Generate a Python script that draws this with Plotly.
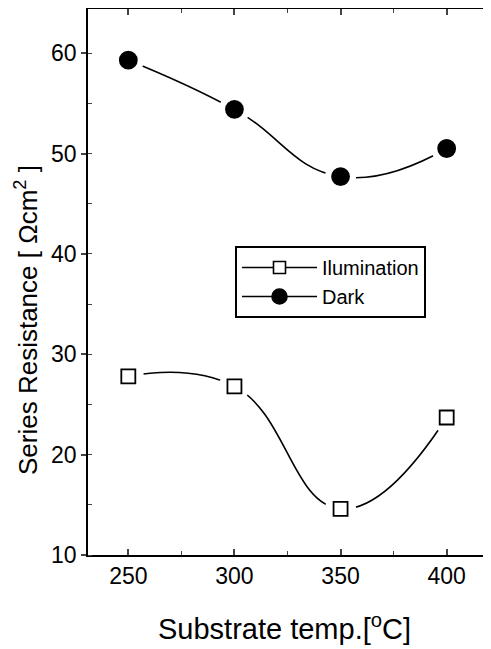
import plotly.graph_objects as go

temps = [250, 300, 350, 400]
illum = [27.8, 26.8, 14.6, 23.7]
dark = [59.3, 54.4, 47.7, 50.5]
x_ticks = [250, 300, 350, 400]
y_ticks = [10, 20, 30, 40, 50, 60]

# the page body adds an 8px offset; the figure is laid out to compensate
OFF = 8
W, H = 491 - OFF, 649 - OFF
L, R, T, B = 88 - OFF, 4, 1, 649 - 555
pw, ph = W - L - R, H - T - B

fig = go.Figure()

def add_series(x, y, name, symbol, fill, size):
    fig.add_trace(go.Scatter(x=x, y=y, name=name, mode="lines+markers",
                             line=dict(color="black", width=1.6, shape="spline", smoothing=1.3),
                             marker=dict(symbol=symbol, size=size - 2,
                                         color=fill, line=dict(color="black", width=1.6))))
    fig.add_trace(go.Scatter(x=x, y=y, mode="markers", showlegend=False, hoverinfo="skip",
                             marker=dict(symbol="circle", size=31, color="white",
                                         line=dict(width=0))))
    fig.add_trace(go.Scatter(x=x, y=y, mode="markers", showlegend=False,
                             marker=dict(symbol=symbol, size=size,
                                         color=fill, line=dict(color="black", width=1.8))))

add_series(temps, illum, "Ilumination", "square", "white", 14)
add_series(temps, dark, "Dark", "circle", "black", 17)

font = "Liberation Sans, Arial, sans-serif"

def px_x(px):
    return (px - OFF - L) / pw

def px_y(py):
    return (H - B - (py - OFF)) / ph

fig.update_layout(
    width=W, height=H,
    margin=dict(l=L, r=R, t=T, b=B, autoexpand=False),
    paper_bgcolor="white", plot_bgcolor="white",
    font=dict(family=font, color="black"),
    showlegend=True,
    legend=dict(x=px_x(235), y=px_y(246), xanchor="left", yanchor="top",
                bgcolor="white", bordercolor="black", borderwidth=2,
                font=dict(size=20, family=font), tracegroupgap=0,
                itemwidth=75),
    xaxis=dict(range=[231, 419], tickvals=x_ticks, ticks="inside", ticklen=6, tickwidth=1.5,
               showline=True, linecolor="black", linewidth=1.5, mirror="allticks",
               showgrid=False, zeroline=False, automargin=False,
               tickfont=dict(size=23, family=font),
               minor=dict(dtick=25, tick0=250, ticks="inside", ticklen=4, tickwidth=1.2, showgrid=False)),
    yaxis=dict(range=[10, 64.4], tickvals=y_ticks, ticks="outside", ticklen=5, tickwidth=1.5,
               showline=True, linecolor="black", linewidth=1.5, mirror=True,
               showgrid=False, zeroline=False, automargin=False,
               tickfont=dict(size=23, family=font),
               minor=dict(dtick=5, tick0=10, ticks="inside", ticklen=4, tickwidth=1.2, showgrid=False)),
    yaxis2=dict(matches="y", overlaying="y", side="right", anchor="x",
                tickvals=y_ticks, ticks="inside", ticklen=6, tickwidth=1.5,
                showticklabels=False, showline=False, showgrid=False, zeroline=False,
                automargin=False,
                minor=dict(dtick=5, tick0=10, ticks="inside", ticklen=4, tickwidth=1.2, showgrid=False)),
)

fig.add_annotation(text="Series Resistance [ \u03a9cm<sup>2</sup> ]", textangle=-90,
                   xref="paper", yref="paper", x=px_x(26), y=px_y(320),
                   xanchor="center", yanchor="middle",
                   showarrow=False, font=dict(size=26, family=font))
fig.add_annotation(text="Substrate temp.[<sup>o</sup>C]",
                   xref="paper", yref="paper", x=px_x(284), y=px_y(627),
                   xanchor="center", yanchor="middle",
                   showarrow=False, font=dict(size=29, family=font))

fig.write_html("out.html")
